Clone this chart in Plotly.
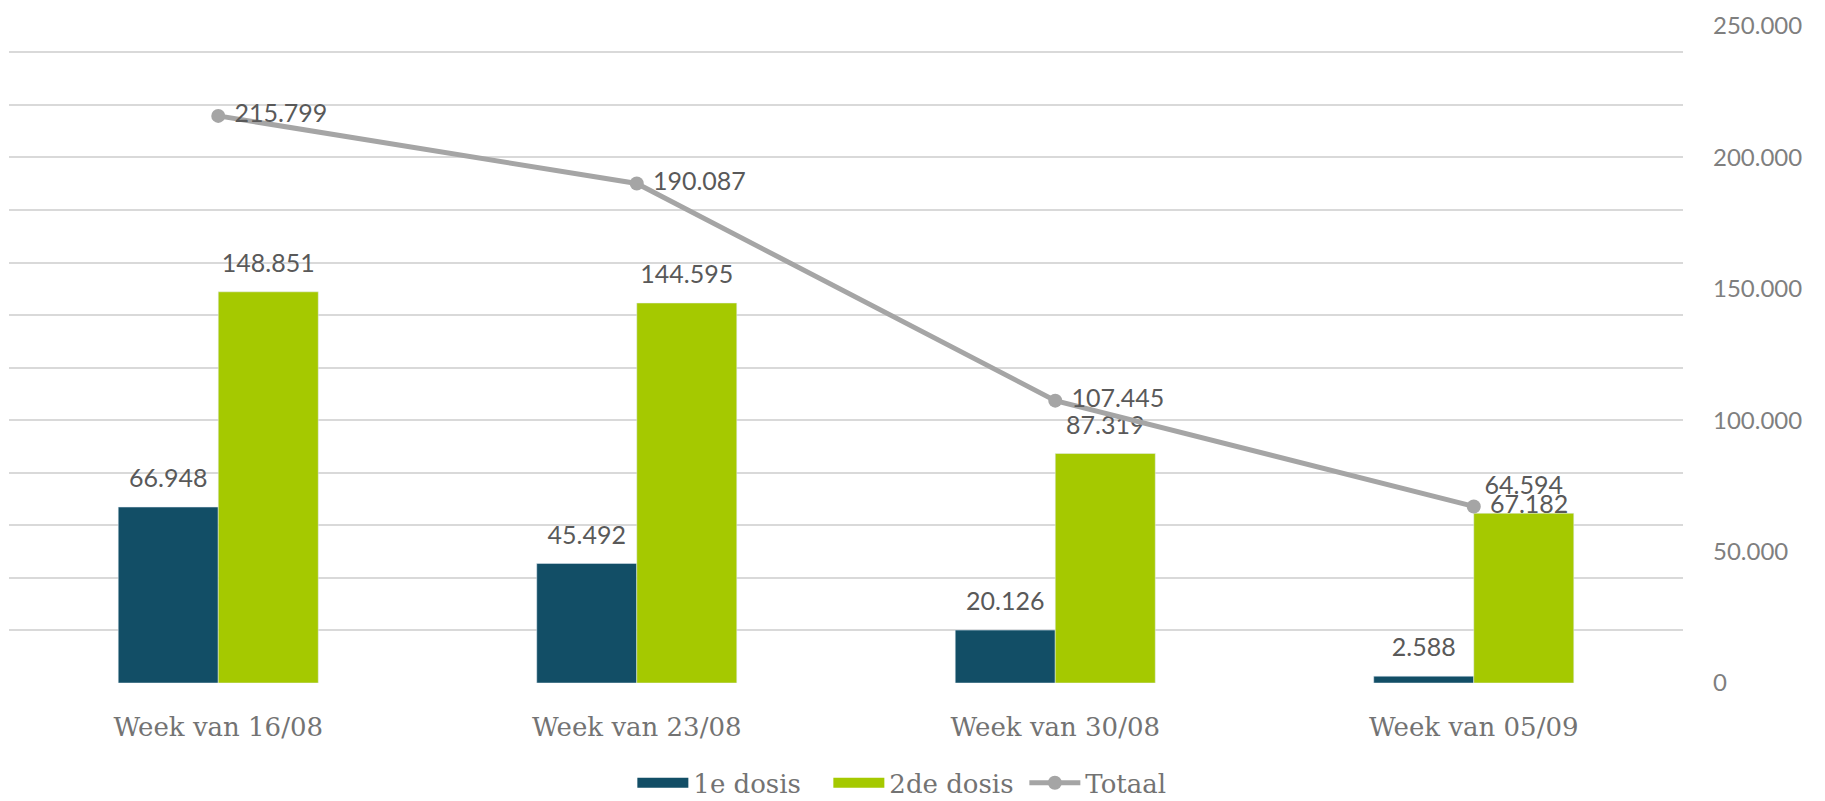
import plotly.graph_objects as go

categories = ["Week van 16/08", "Week van 23/08", "Week van 30/08", "Week van 05/09"]
dose1 = [66948, 45492, 20126, 2588]
dose2 = [148851, 144595, 87319, 64594]
total = [215799, 190087, 107445, 67182]
series_names = ["1e dosis", "2de dosis", "Totaal"]
colors = ["#124e66", "#a5c900", "#a5a5a5"]

SANS = "Lato, 'Open Sans', sans-serif"
SERIF = "'DejaVu Serif', serif"
LABEL_FONT = dict(family=SANS, size=25, color="#595959")

fig = go.Figure()
for vals, name, col, grp in [(dose1, series_names[0], colors[0], "a"),
                             (dose2, series_names[1], colors[1], "b")]:
    fig.add_trace(go.Bar(x=categories, y=vals, name=name, marker_color=col,
                         offsetgroup=grp, showlegend=False, legendgroup=name))
    # data labels, aligned with the bars via scattermode="group"
    fig.add_trace(go.Scatter(x=categories, y=vals, mode="markers+text", offsetgroup=grp,
                             marker=dict(size=20, opacity=0), texttemplate="%{y:,}",
                             textposition="top center", textfont=LABEL_FONT,
                             cliponaxis=False, showlegend=False, hoverinfo="skip"))
    # legend entry (wide swatch)
    fig.add_trace(go.Scatter(x=[None], y=[None], mode="lines", name=name, legendgroup=name,
                             line=dict(color=col, width=20)))

fig.add_trace(go.Scatter(
    x=categories, y=total, name=series_names[2], xaxis="x2", yaxis="y2",
    mode="lines+markers+text",
    line=dict(color=colors[2], width=5), marker=dict(size=14, color=colors[2]),
    texttemplate=" %{y:,}", textposition="middle right", cliponaxis=False,
    textfont=LABEL_FONT,
))

fig.update_layout(
    width=1817, height=793,
    paper_bgcolor="white", plot_bgcolor="white",
    margin=dict(l=1, r=142, t=18, b=118, autoexpand=False),
    separators=",.",
    barmode="group", bargap=0.522, bargroupgap=0,
    scattermode="group", scattergap=0.522,
    font=dict(family=SERIF, color="#737373"),
    xaxis=dict(showline=False, showgrid=False, ticks="", ticklabelstandoff=26, automargin=False,
               type="category", categoryorder="array", categoryarray=categories,
               range=[-0.5, 3.5],
               tickfont=dict(family=SERIF, size=26, color="#737373")),
    xaxis2=dict(overlaying="x", visible=False, type="category", categoryorder="array",
                categoryarray=categories, range=[-0.5, 3.5], anchor="y2"),
    yaxis=dict(range=[0, 250000], dtick=20000, tick0=0, showgrid=True, automargin=False,
               gridcolor="#d9d9d9", gridwidth=1.5, showticklabels=False,
               zeroline=False, showline=False),
    yaxis2=dict(range=[0, 250000], dtick=50000, tick0=0, overlaying="y", side="right",
                anchor="x2", showgrid=False, zeroline=False, tickformat=",",
                ticklabelstandoff=29, automargin=False,
                tickfont=dict(family=SANS, size=24, color="#7f7f7f")),
    legend=dict(orientation="h", x=0.548, xanchor="center", y=-0.152, yanchor="middle",
                font=dict(family=SERIF, size=26, color="#737373"), itemwidth=51,
                entrywidth=130, entrywidthmode="pixels"),
    showlegend=True,
)

fig.write_html("out.html")
